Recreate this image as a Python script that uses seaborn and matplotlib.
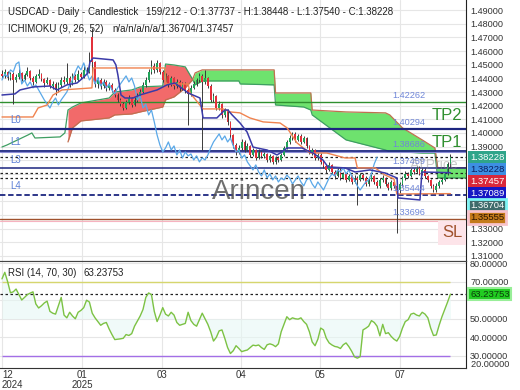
import matplotlib
matplotlib.use("Agg")
import matplotlib.pyplot as plt
import numpy as np
import seaborn as sns

# ---- candles (daily, oldest first) ----
closes = [1.4418, 1.4447, 1.4403, 1.4432, 1.4388, 1.4410, 1.4440, 1.4396, 1.4425, 1.4454,
          1.4403, 1.4374, 1.4418, 1.4432, 1.4396, 1.4366, 1.4388, 1.4344, 1.4359, 1.4315,
          1.4352, 1.4388, 1.4374, 1.4403, 1.4359, 1.4418, 1.4388, 1.4432, 1.4410, 1.4462,
          1.4447, 1.4505, 1.4520, 1.4359, 1.4388, 1.4344, 1.4374, 1.4330, 1.4352, 1.4315,
          1.4278, 1.4242, 1.4212, 1.4183, 1.4227, 1.4256, 1.4205, 1.4242, 1.4271, 1.4300,
          1.4352, 1.4388, 1.4447, 1.4491, 1.4462, 1.4513, 1.4447, 1.4388, 1.4418, 1.4359,
          1.4403, 1.4344, 1.4374, 1.4330, 1.4359, 1.4315, 1.4286, 1.4330, 1.4359, 1.4388,
          1.4418, 1.4374, 1.4403, 1.4344, 1.4242, 1.4271, 1.4183, 1.4212, 1.4132, 1.4168,
          1.4081, 1.3985, 1.3912, 1.3861, 1.3890, 1.3934, 1.3875, 1.3905, 1.3839, 1.3875,
          1.3817, 1.3861, 1.3832, 1.3846, 1.3802, 1.3832, 1.3788, 1.3817, 1.3802, 1.3839,
          1.3890, 1.3934, 1.3963, 1.3993, 1.3949, 1.3978, 1.3934, 1.3963, 1.3905, 1.3861,
          1.3875, 1.3817, 1.3839, 1.3788, 1.3758, 1.3729, 1.3766, 1.3714, 1.3685, 1.3729,
          1.3670, 1.3700, 1.3656, 1.3685, 1.3641, 1.3670, 1.3656, 1.3692, 1.3670, 1.3626,
          1.3656, 1.3685, 1.3641, 1.3612, 1.3656, 1.3670, 1.3626, 1.3597, 1.3641, 1.3612,
          1.3582, 1.3626, 1.3670, 1.3700, 1.3685, 1.3729, 1.3714, 1.3744, 1.3700, 1.3729,
          1.3685, 1.3656, 1.3612, 1.3582, 1.3612, 1.3641, 1.3656, 1.3700, 1.37737, 1.38228]
highs = [1.4460, 1.4470, 1.4455, 1.4450, 1.4445, 1.4430, 1.4465, 1.4450, 1.4440, 1.4480,
         1.4460, 1.4415, 1.4435, 1.4470, 1.4440, 1.4405, 1.4410, 1.4395, 1.4380, 1.4370,
         1.4375, 1.4410, 1.4420, 1.4513, 1.4415, 1.4440, 1.4430, 1.4460, 1.4450, 1.4490,
         1.4480, 1.4593, 1.4770, 1.4530, 1.4410, 1.4400, 1.4395, 1.4385, 1.4370, 1.4365,
         1.4330, 1.4290, 1.4255, 1.4230, 1.4245, 1.4275, 1.4265, 1.4260, 1.4290, 1.4320,
         1.4375, 1.4410, 1.4470, 1.4535, 1.4510, 1.4535, 1.4520, 1.4460, 1.4440, 1.4425,
         1.4420, 1.4410, 1.4395, 1.4385, 1.4375, 1.4370, 1.4330, 1.4350, 1.4380, 1.4405,
         1.4440, 1.4430, 1.4462, 1.4410, 1.4355, 1.4290, 1.4280, 1.4235, 1.4220, 1.4185,
         1.4175, 1.4090, 1.3995, 1.3925, 1.3910, 1.3955, 1.3945, 1.3925, 1.3915, 1.3890,
         1.3885, 1.3880, 1.3870, 1.3860, 1.3855, 1.3845, 1.3840, 1.3830, 1.3830, 1.3855,
         1.3905, 1.3950, 1.3985, 1.4010, 1.4005, 1.3995, 1.3990, 1.3980, 1.3970, 1.3915,
         1.3890, 1.3885, 1.3855, 1.3850, 1.3800, 1.3770, 1.3785, 1.3775, 1.3725, 1.3745,
         1.3740, 1.3715, 1.3710, 1.3700, 1.3695, 1.3690, 1.3685, 1.3710, 1.3705, 1.3685,
         1.3670, 1.3700, 1.3695, 1.3655, 1.3670, 1.3690, 1.3680, 1.3640, 1.3655, 1.3650,
         1.3625, 1.3640, 1.3685, 1.3720, 1.3715, 1.3745, 1.3740, 1.3760, 1.3755, 1.3745,
         1.3740, 1.3695, 1.3665, 1.3625, 1.3630, 1.3655, 1.3670, 1.3715, 1.3790, 1.38448]
lows = [1.4400, 1.4405, 1.4390, 1.4385, 1.4215, 1.4370, 1.4395, 1.4380, 1.4385, 1.4415,
        1.4390, 1.4350, 1.4365, 1.4405, 1.4380, 1.4340, 1.4355, 1.4330, 1.4320, 1.4278,
        1.4300, 1.4340, 1.4355, 1.4360, 1.4340, 1.4350, 1.4370, 1.4380, 1.4395, 1.4400,
        1.4430, 1.4440, 1.4390, 1.4340, 1.4330, 1.4320, 1.4330, 1.4310, 1.4315, 1.4300,
        1.4260, 1.4225, 1.4195, 1.4165, 1.4175, 1.4210, 1.4190, 1.4195, 1.4230, 1.4255,
        1.4290, 1.4340, 1.4375, 1.4430, 1.4440, 1.4450, 1.4430, 1.4370, 1.4375, 1.4340,
        1.4345, 1.4325, 1.4330, 1.4310, 1.4315, 1.4295, 1.4059, 1.4270, 1.4320, 1.4345,
        1.4375, 1.3875, 1.4360, 1.4330, 1.4225, 1.4230, 1.4165, 1.4170, 1.4110, 1.4120,
        1.4060, 1.3960, 1.3890, 1.3840, 1.3845, 1.3875, 1.3860, 1.3865, 1.3825, 1.3830,
        1.3800, 1.3810, 1.3815, 1.3820, 1.3785, 1.3790, 1.3770, 1.3775, 1.3785, 1.3795,
        1.3830, 1.3880, 1.3920, 1.3950, 1.3935, 1.3940, 1.3920, 1.3925, 1.3890, 1.3845,
        1.3840, 1.3800, 1.3805, 1.3770, 1.3740, 1.3710, 1.3720, 1.3700, 1.3665, 1.3675,
        1.3655, 1.3660, 1.3640, 1.3645, 1.3625, 1.3630, 1.3473, 1.3645, 1.3655, 1.3610,
        1.3615, 1.3645, 1.3625, 1.3595, 1.3600, 1.3640, 1.3610, 1.3580, 1.3585, 1.3595,
        1.3267, 1.3560, 1.3615, 1.3655, 1.3670, 1.3675, 1.3700, 1.3705, 1.3690, 1.3690,
        1.3670, 1.3640, 1.3595, 1.3565, 1.3570, 1.3600, 1.3625, 1.3650, 1.3695, 1.37540]
first_open = 1.4432
gap_opens = {32: 1.4700}

# ---- Ichimoku lines (bar index, price) ----
tenkan_x = [0, 4.6, 6.4, 11, 17, 19.5, 23, 26.6, 28.7, 30.5, 31.2, 32.3, 39.4, 40.4, 41.1, 42.2,
            43.6, 46.5, 48.9, 52.5, 55, 58.5, 61.3, 66, 70.2, 71.3, 76.2, 79, 80.1, 81.6, 84.4,
            86.9, 89, 90.4, 94, 97.5, 99.3, 101.1, 106.4, 109.2, 110.3, 113.8, 115.6, 121.6,
            125.2, 130.5, 135.8, 140.1, 140.4, 148.2, 148.9, 159]
tenkan = [1.4278, 1.4286, 1.4315, 1.4337, 1.4344, 1.4315, 1.4352, 1.4366, 1.4403, 1.4440, 1.4520,
          1.4549, 1.4535, 1.4498, 1.4425, 1.4278, 1.4256, 1.4256, 1.4278, 1.4300, 1.4315, 1.4352,
          1.4366, 1.4293, 1.4256, 1.4110, 1.4110, 1.4168, 1.4168, 1.4132, 1.4073, 1.4007, 1.3897,
          1.3890, 1.3875, 1.3839, 1.3861, 1.3890, 1.3890, 1.3861, 1.3853, 1.3802, 1.3751, 1.3744,
          1.3714, 1.3729, 1.3707, 1.3670, 1.3524, 1.3509, 1.3714, 1.37089]
kijun_x = [0, 11, 12.8, 16, 18.1, 21.3, 31.9, 32.3, 57.8, 58.2, 66, 66.7, 71.3, 78.4, 80.9,
           84.4, 87.9, 92.6, 98.6, 101.1, 104.6, 109.2, 115.2, 121.6, 125.2, 126, 132.3, 135.8,
           139, 140, 159]
kijun = [1.4117, 1.4117, 1.4183, 1.4205, 1.4278, 1.4315, 1.4330, 1.4476, 1.4476, 1.4359, 1.4359,
         1.4293, 1.4176, 1.4176, 1.4154, 1.4147, 1.4110, 1.4081, 1.4073, 1.4037, 1.3927, 1.3853,
         1.3853, 1.3817, 1.3817, 1.3744, 1.3744, 1.3692, 1.3663, 1.3553, 1.35555]

# ---- Ichimoku cloud ----
cloud_x = [0, 1.8, 9.2, 10.6, 11.7, 20.6, 22.3, 23.4, 25, 28, 38, 40, 46, 49, 57, 58, 61, 65,
           67.5, 68.5, 71, 84, 84.5, 96.5, 97, 107, 109.5, 110, 122, 136, 137.5, 142, 149,
           153.5, 154.5, 165]
span_a = [1.3897, 1.3912, 1.3985, 1.4000, 1.3963, 1.3971, 1.4000, 1.4168, 1.4190, 1.4220, 1.4256,
          1.4300, 1.4315, 1.4337, 1.4344, 1.4505, 1.4498, 1.4484, 1.4396, 1.4352, 1.4381, 1.4381,
          1.4359, 1.4352, 1.4205, 1.4190, 1.4168, 1.4132, 1.3949, 1.3875, 1.3861, 1.3861, 1.3853,
          1.3853, 1.36704, 1.36704]
span_b = [np.nan] * 7 + [1.3934, 1.4037, 1.4088, 1.4110, 1.4132, 1.4139, 1.4154, 1.4190, 1.4242,
          1.4264, 1.4330, 1.4388, 1.4440, 1.4462, 1.4462, 1.4462, 1.4462, 1.4293, 1.4293, 1.4293,
          1.4168, 1.4154, 1.4147, 1.4132, 1.4037, 1.3949, 1.3890, 1.37457, 1.37457]

# ---- RSI (14) ----
rsi = [71.5, 75.0, 70.0, 64.0, 64.5, 66.0, 63.0, 60.1, 61.5, 63.0,
       63.8, 64.5, 58.0, 55.8, 57.0, 58.5, 59.5, 54.0, 53.0, 52.5,
       57.0, 61.5, 52.0, 50.5, 53.5, 51.5, 50.0, 53.5, 54.5, 56.0,
       60.0, 59.0, 53.0, 50.5, 48.5, 46.5, 47.5, 48.0, 44.5, 41.5,
       38.8, 39.0, 39.2, 39.5, 41.5, 41.0, 42.0, 46.0, 48.8, 51.5,
       55.0, 61.5, 63.9, 63.0, 54.0, 48.5, 52.0, 56.0, 52.5, 51.5,
       53.5, 52.0, 48.0, 46.5, 47.0, 47.5, 53.5, 49.0, 47.0, 46.0,
       49.5, 53.0, 50.0, 47.0, 43.0, 38.0, 40.0, 43.5, 44.0, 39.5,
       34.5, 31.3, 32.8, 35.5, 34.0, 32.3, 32.8, 33.2, 34.5, 35.8,
       35.5, 35.9, 34.5, 33.5, 36.0, 36.5, 36.0, 35.0, 36.5, 43.0,
       47.0, 51.1, 49.5, 50.5, 50.0, 49.8, 50.5, 48.5, 47.0, 43.0,
       37.5, 35.5, 39.0, 45.0, 44.0, 39.5, 37.0, 35.9, 35.1, 34.8,
       34.0, 36.0, 37.0, 35.0, 32.5, 29.5, 28.8, 29.6, 44.0, 44.9,
       46.0, 49.0, 48.0, 46.0, 40.8, 47.0, 42.0, 42.5, 40.5, 39.0,
       38.0, 40.5, 45.0, 48.5, 49.5, 52.5, 53.0, 52.0, 51.5, 53.5,
       52.5, 50.5, 45.0, 41.0, 41.3, 46.5, 51.1, 55.0, 59.0, 63.23753]

# ---- levels / labels ----
tp2 = 1.42262
l0 = 1.40294
tp1 = 1.38686
l1b = 1.38577
level_mid = 1.37459
dotted_levels = [1.38228, 1.37089, 1.36704]
l4 = 1.35444
sl = 1.33696
month_ticks = [0, 28.4, 56.7, 84.8, 112.8, 141.1]
month_labels = ["12\n2024", "01\n2025", "03", "04", "05", "07"]
price_ticks = [1.31, 1.32, 1.33, 1.34, 1.35, 1.36, 1.37, 1.38, 1.39, 1.40, 1.41, 1.42, 1.43,
               1.44, 1.45, 1.46, 1.47, 1.48, 1.49]
hidden_price_ticks = [1.34, 1.35, 1.36, 1.37, 1.38]
rsi_ticks = [30, 40, 50, 60, 70, 80]
right_boxes = [("1.38228", "#2fa58a", "white", None),
               ("1.38228", "#3d8fe3", "#0c1f5e", None),
               ("1.37457", "#d9283b", "white", None),
               ("1.37089", "#1616c4", "white", None),
               ("1.36704", "#3e6b6b", "white", "#7ff4f4"),
               ("1.35555", "#c47a1a", "#2a1500", "#f8c4cc")]

sns.set_style("white")
plt.rcParams['font.family'] = ['Liberation Sans', 'DejaVu Sans']

closes = np.array(closes)
highs = np.array(highs)
lows = np.array(lows)
opens = np.concatenate([[first_open], closes[:-1]])
for k, v in gap_opens.items():
    opens[k] = v
n = len(closes)
idx = np.arange(n)

fig = plt.figure(figsize=(5.2, 3.9), dpi=100)
ax1 = fig.add_axes([0, 0.3308, 0.896, 0.6692])
ax2 = fig.add_axes([0, 0.0564, 0.896, 0.2744])

grid_c = "#e6e6e6"
for ax in (ax1, ax2):
    ax.set_facecolor("white")
    for v in month_ticks:
        ax.axvline(v, color=grid_c, lw=0.8, zorder=0)
    for s in ("left", "top"):
        ax.spines[s].set_visible(False)
    ax.spines["right"].set_color("#222222")
    ax.spines["bottom"].set_color("#333333")
    ax.set_xlim(-0.7, 164.5)

# ---- main panel ----
for p in price_ticks:
    ax1.axhline(p, color=grid_c, lw=0.8, zorder=0)

cx = np.array(cloud_x)
sa = np.array(span_a)
sb = np.array(span_b)
ax1.fill_between(cx, sa, sb, where=sb > sa, color="#6ee26e", interpolate=True, lw=0, zorder=1)
ax1.fill_between(cx, sa, sb, where=sa >= sb, color="#f26a6a", interpolate=True, lw=0, zorder=1)
sns.lineplot(x=cx, y=sa, ax=ax1, color="#3e9e62", lw=0.9, estimator=None, sort=False, zorder=1.5)
sns.lineplot(x=cx, y=sb, ax=ax1, color="#c07050", lw=0.9, estimator=None, sort=False, zorder=1.5)

navy = "#1d2680"
ax1.axhline(tp2, color="#2f8f2f", lw=1.0, zorder=2)
ax1.axhline(l0, color=navy, lw=1.6, zorder=2)
ax1.axhline(tp1, color=navy, lw=1.3, zorder=2)
ax1.axhline(l1b, color="#8a8ad6", lw=0.8, zorder=2)
ax1.axhline(level_mid, color=navy, lw=1.1, zorder=2)
for p in dotted_levels:
    ax1.axhline(p, color="#222222", lw=0.9, ls=(0, (2, 2)), zorder=2)
ax1.axhline(l4, color=navy, lw=1.3, ls=(0, (3, 1.5)), zorder=2)
ax1.axhline(sl, color="#a0522d", lw=1.0, zorder=2)
ax1.axhline(sl - 0.0012, color="#f6b3c0", lw=0.8, zorder=2)

# candles
up = closes >= opens
body_lo = np.minimum(opens, closes)
body_h = np.maximum(np.abs(closes - opens), 0.0003)
ax1.vlines(idx, lows, highs, color="#3a3a3a", lw=0.7, zorder=3)
ax1.bar(idx[up], body_h[up], bottom=body_lo[up], width=0.62, color="#22a35a", lw=0, zorder=4)
ax1.bar(idx[~up], body_h[~up], bottom=body_lo[~up], width=0.62, color="#e2313b", lw=0, zorder=4)

sns.lineplot(x=idx[:n - 26], y=closes[26:], ax=ax1, color="#5aa8e8", lw=0.9, zorder=5)
sns.lineplot(x=kijun_x, y=kijun, ax=ax1, color="#f0834f", lw=1.0, estimator=None, sort=False, zorder=5)
sns.lineplot(x=tenkan_x, y=tenkan, ax=ax1, color="#3a3aa8", lw=1.1, estimator=None, sort=False, zorder=5)

ax1.set_ylim(1.3062, 1.4974)
ax1.set_xticks(month_ticks)
ax1.tick_params(axis="x", labelbottom=False, length=0)
ax1.yaxis.tick_right()
ax1.set_yticks(price_ticks)
ax1.set_yticklabels(["" if p in hidden_price_ticks else f"{p:.5f}" for p in price_ticks])
ax1.tick_params(axis="y", length=0, pad=3, labelsize=6.6, labelcolor="#333333")
ax1.set_xlabel("")
ax1.set_ylabel("")

lab_c = "#6f86d8"
for p in [tp2, l0, tp1, level_mid, l4, sl]:
    ax1.annotate(f"{p:.5f}", (138.3, p), xytext=(0, 1.2), textcoords="offset points",
                 va="bottom", ha="left", fontsize=6.6, color=lab_c, zorder=6)
for name, py in [("L0", 120), ("L1", 142), ("L3", 160), ("L4", 186)]:
    ax1.text(10 / 466, 1 - py / 261, name, transform=ax1.transAxes, fontsize=7,
             color="#5b7fd6", va="center", ha="left", zorder=6)
ax1.text(432 / 466, 1 - 116 / 261, "TP2", transform=ax1.transAxes, fontsize=12,
         color="#2f8f2f", va="center", ha="left", zorder=6)
ax1.text(432 / 466, 1 - 143 / 261, "TP1", transform=ax1.transAxes, fontsize=12,
         color="#2f8f2f", va="center", ha="left", zorder=6)
ax1.text(442 / 466, 1 - 233 / 261, "SL", transform=ax1.transAxes, fontsize=12,
         color="#a0522d", va="center", ha="left", zorder=6,
         bbox=dict(boxstyle="square,pad=0.25", fc="#fde4e9", ec="none"))
ax1.text(259 / 466, 1 - 192 / 261, "Arincen", transform=ax1.transAxes, fontsize=20,
         color="#555555", alpha=0.85, va="center", ha="center", zorder=6)
ax1.text(410 / 466, 1 - 165 / 261, "ATPrice", transform=ax1.transAxes, fontsize=10,
         color="#888888", alpha=0.45, va="center", ha="left", zorder=6)
ax1.text(8 / 466, 1 - 12 / 261, "USDCAD - Daily - Candlestick", transform=ax1.transAxes,
         fontsize=7, color="#222222", va="center", ha="left", zorder=7)
ax1.text(146 / 466, 1 - 12 / 261, "159/212 - O:1.37737 - H:1.38448 - L:1.37540 - C:1.38228",
         transform=ax1.transAxes, fontsize=7, color="#222222", va="center", ha="left", zorder=7)
ax1.text(8 / 466, 1 - 29 / 261, "ICHIMOKU (9, 26, 52)", transform=ax1.transAxes,
         fontsize=7, color="#222222", va="center", ha="left", zorder=7)
ax1.text(112 / 466, 1 - 29 / 261, "n/a/n/a/n/a/1.36704/1.37457", transform=ax1.transAxes,
         fontsize=7, color="#222222", va="center", ha="left", zorder=7)

for k, (txt, fc, tc, halo) in enumerate(right_boxes):
    ax1.annotate(txt, (1, 1.38228), xycoords=("axes fraction", "data"),
                 xytext=(3, -k * 8.7), textcoords="offset points", va="center", ha="left",
                 fontsize=6.8, color=tc, annotation_clip=False, zorder=8,
                 bbox=dict(boxstyle="square,pad=0.18", fc=fc,
                           ec=halo if halo else fc, lw=2 if halo else 0))

# ---- RSI panel ----
for v in rsi_ticks:
    ax2.axhline(v, color=grid_c, lw=0.8, zorder=0)
rsi = np.array(rsi)
ax2.fill_between(idx, rsi, 50, color="#e6f8f5", alpha=0.6, lw=0, zorder=1)
ax2.hlines(70, 0, n - 1, color="#d6d66e", lw=1.0, zorder=2)
ax2.hlines(30, 0, n - 1, color="#a36fe6", lw=1.0, zorder=2)
ax2.axhline(rsi[-1], color="#222222", lw=0.9, ls=(0, (2, 2)), zorder=2)
sns.lineplot(x=idx, y=rsi, ax=ax2, color="#7cc244", lw=1.0, zorder=3)
ax2.set_ylim(23.5, 81.1)
ax2.spines["top"].set_visible(True)
ax2.spines["top"].set_color("#444444")
ax2.yaxis.tick_right()
ax2.set_yticks(rsi_ticks)
ax2.set_yticklabels(["" if v == 60 else f"{v:.5f}" for v in rsi_ticks])
ax2.tick_params(axis="y", length=0, pad=3, labelsize=6.6, labelcolor="#333333")
ax2.set_xticks(month_ticks)
ax2.set_xticklabels(month_labels, linespacing=0.95)
ax2.tick_params(axis="x", length=0, pad=1.5, labelsize=7, labelcolor="#333333")
ax2.get_xticklabels()[0].set_ha("left")
ax2.set_xlabel("")
ax2.set_ylabel("")
ax2.text(1.0, 0.03, "  20.00000", transform=ax2.transAxes, fontsize=6.6, color="#333333",
         va="center", ha="left")
ax2.text(8 / 466, 0.888, "RSI (14, 70, 30)", transform=ax2.transAxes, fontsize=7,
         color="#222222", va="center", ha="left")
ax2.text(84 / 466, 0.888, "63.23753", transform=ax2.transAxes, fontsize=7,
         color="#222222", va="center", ha="left")
ax2.annotate("63.23753", (1, rsi[-1]), xycoords=("axes fraction", "data"), xytext=(3, 0),
             textcoords="offset points", va="center", ha="left", fontsize=6.8,
             color="#0b3d0b", annotation_clip=False,
             bbox=dict(boxstyle="square,pad=0.18", fc="#22cc22", ec="#98ee98", lw=1.5))

fig.savefig("out.png", dpi=100)
